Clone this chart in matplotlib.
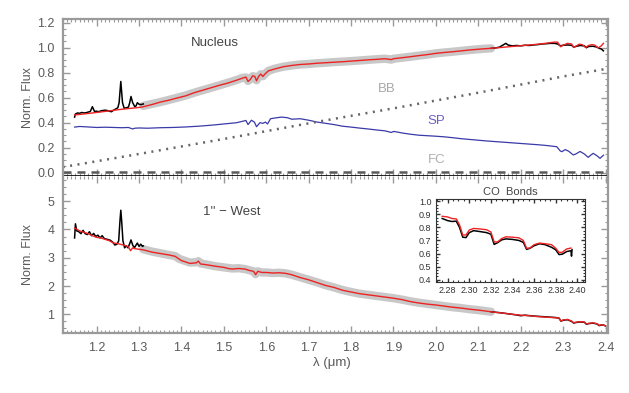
import matplotlib
matplotlib.use("Agg")
import matplotlib.pyplot as plt
from matplotlib.ticker import MultipleLocator

plt.rcParams['font.family'] = ['Liberation Sans', 'DejaVu Sans']

# ---------------- Nucleus ----------------
nuc_wave_j = [1.148, 1.150, 1.155, 1.160, 1.165, 1.170, 1.175, 1.180, 1.185, 1.190,
              1.195, 1.200, 1.205, 1.210, 1.215, 1.220, 1.225, 1.230, 1.235, 1.240,
              1.245, 1.250, 1.253, 1.257, 1.261, 1.265, 1.270, 1.275, 1.278, 1.281,
              1.285, 1.290, 1.293, 1.296, 1.300, 1.305, 1.310]
nuc_obs_j = [0.445, 0.470, 0.478, 0.475, 0.482, 0.478, 0.480, 0.485, 0.490, 0.528,
             0.490, 0.492, 0.488, 0.495, 0.498, 0.500, 0.498, 0.492, 0.488, 0.500,
             0.510, 0.520, 0.560, 0.730, 0.560, 0.515, 0.520, 0.525, 0.560, 0.610,
             0.560, 0.528, 0.535, 0.560, 0.548, 0.545, 0.550]

nuc_wave_mid = [1.31, 1.33, 1.35, 1.37, 1.39, 1.41, 1.43, 1.45, 1.47, 1.49,
                1.51, 1.53, 1.545, 1.552, 1.557, 1.562, 1.568, 1.573, 1.577, 1.582,
                1.587, 1.592, 1.597, 1.605, 1.62, 1.64, 1.66, 1.68, 1.70, 1.72,
                1.74, 1.76, 1.78, 1.80, 1.82, 1.84, 1.86, 1.88, 1.895, 1.90,
                1.92, 1.94, 1.96, 1.98, 2.00, 2.02, 2.04, 2.06, 2.08, 2.10,
                2.12, 2.13]
nuc_obs_mid = [0.535, 0.550, 0.565, 0.582, 0.600, 0.618, 0.640, 0.660, 0.680, 0.700,
               0.720, 0.742, 0.760, 0.762, 0.735, 0.748, 0.772, 0.768, 0.740, 0.770,
               0.788, 0.772, 0.790, 0.815, 0.832, 0.848, 0.858, 0.866, 0.870, 0.876,
               0.880, 0.885, 0.889, 0.893, 0.898, 0.903, 0.908, 0.912, 0.905, 0.912,
               0.920, 0.928, 0.937, 0.945, 0.955, 0.962, 0.968, 0.975, 0.982, 0.988,
               0.993, 0.995]

nuc_wave_k = [2.13, 2.14, 2.15, 2.16, 2.165, 2.17, 2.18, 2.19, 2.20, 2.21,
              2.22, 2.23, 2.24, 2.25, 2.26, 2.27, 2.28, 2.287, 2.294, 2.30,
              2.31, 2.32, 2.325, 2.33, 2.34, 2.35, 2.355, 2.36, 2.37, 2.38,
              2.385, 2.39, 2.395]
nuc_obs_k = [0.995, 0.998, 1.005, 1.025, 1.035, 1.022, 1.015, 1.018, 1.015, 1.020,
             1.018, 1.022, 1.025, 1.030, 1.032, 1.035, 1.035, 1.030, 1.015, 1.020,
             1.022, 1.020, 1.005, 1.010, 1.018, 1.015, 1.000, 1.010, 1.012, 1.005,
             0.995, 0.990, 0.975]

nuc_fit_wave = [1.148, 1.17, 1.20, 1.23, 1.26, 1.28, 1.30, 1.31, 1.33, 1.35,
                1.37, 1.39, 1.41, 1.43, 1.45, 1.47, 1.49, 1.51, 1.53, 1.545,
                1.552, 1.557, 1.562, 1.568, 1.573, 1.577, 1.582, 1.587, 1.592, 1.597,
                1.605, 1.62, 1.64, 1.66, 1.68, 1.70, 1.72, 1.74, 1.76, 1.78,
                1.80, 1.82, 1.84, 1.86, 1.88, 1.895, 1.90, 1.92, 1.94, 1.96,
                1.98, 2.00, 2.02, 2.04, 2.06, 2.08, 2.10, 2.12, 2.14, 2.16,
                2.18, 2.20, 2.22, 2.24, 2.26, 2.28, 2.287, 2.294, 2.300, 2.310,
                2.320, 2.325, 2.330, 2.338, 2.345, 2.353, 2.360, 2.368, 2.375, 2.383,
                2.390, 2.395]
nuc_fit = [0.462, 0.470, 0.482, 0.495, 0.508, 0.515, 0.522, 0.528, 0.545, 0.565,
           0.580, 0.598, 0.615, 0.640, 0.660, 0.680, 0.700, 0.718, 0.740, 0.758,
           0.765, 0.730, 0.745, 0.775, 0.770, 0.735, 0.770, 0.790, 0.770, 0.790,
           0.815, 0.830, 0.848, 0.858, 0.866, 0.870, 0.876, 0.880, 0.884, 0.888,
           0.893, 0.898, 0.903, 0.907, 0.912, 0.905, 0.912, 0.920, 0.928, 0.937,
           0.945, 0.955, 0.962, 0.968, 0.975, 0.982, 0.988, 0.993, 0.998, 1.004,
           1.010, 1.016, 1.022, 1.028, 1.036, 1.045, 1.045, 1.008, 1.020, 1.035,
           1.030, 1.002, 1.012, 1.028, 1.025, 1.002, 1.018, 1.025, 1.020, 0.998,
           1.015, 1.035]

sp_wave = [1.148, 1.16, 1.18, 1.20, 1.22, 1.24, 1.26, 1.275, 1.285, 1.29,
           1.30, 1.32, 1.35, 1.38, 1.41, 1.44, 1.47, 1.50, 1.53, 1.552,
           1.557, 1.565, 1.572, 1.577, 1.585, 1.592, 1.598, 1.603, 1.61, 1.625,
           1.636, 1.65, 1.66, 1.68, 1.70, 1.72, 1.74, 1.76, 1.78, 1.80,
           1.82, 1.84, 1.86, 1.88, 1.895, 1.90, 1.905, 1.92, 1.94, 1.96,
           1.98, 2.00, 2.02, 2.04, 2.06, 2.08, 2.10, 2.12, 2.14, 2.16,
           2.18, 2.20, 2.22, 2.24, 2.26, 2.285, 2.293, 2.297, 2.305, 2.313,
           2.324, 2.33, 2.34, 2.35, 2.359, 2.365, 2.371, 2.38, 2.387, 2.395]
sp_flux = [0.365, 0.370, 0.366, 0.362, 0.364, 0.362, 0.360, 0.362, 0.350, 0.356,
           0.358, 0.356, 0.360, 0.362, 0.366, 0.372, 0.380, 0.390, 0.400, 0.418,
           0.385, 0.420, 0.405, 0.368, 0.400, 0.395, 0.405, 0.390, 0.432, 0.440,
           0.445, 0.440, 0.428, 0.432, 0.420, 0.405, 0.395, 0.385, 0.372, 0.365,
           0.357, 0.350, 0.342, 0.335, 0.322, 0.330, 0.328, 0.318, 0.308, 0.300,
           0.296, 0.292, 0.287, 0.280, 0.272, 0.266, 0.260, 0.254, 0.249, 0.244,
           0.239, 0.234, 0.229, 0.224, 0.218, 0.208, 0.175, 0.168, 0.185, 0.172,
           0.142, 0.150, 0.170, 0.150, 0.123, 0.140, 0.155, 0.135, 0.115, 0.140]

bb_wave = [1.12, 1.30, 1.50, 1.70, 1.90, 2.10, 2.30, 2.40]
bb_flux = [0.045, 0.150, 0.270, 0.395, 0.515, 0.640, 0.770, 0.830]

fc_wave = [1.12, 2.40]
fc_flux = [0.008, 0.008]

# ---------------- 1'' West ----------------
west_wave_j = [1.148, 1.150, 1.153, 1.158, 1.163, 1.168, 1.173, 1.178, 1.183, 1.188,
               1.193, 1.198, 1.203, 1.208, 1.213, 1.218, 1.225, 1.232, 1.238, 1.243,
               1.248, 1.252, 1.255, 1.257, 1.259, 1.262, 1.266, 1.270, 1.274, 1.278,
               1.281, 1.285, 1.289, 1.293, 1.296, 1.300, 1.304, 1.308, 1.310]
west_obs_j = [3.70, 4.20, 3.95, 3.92, 3.85, 3.97, 3.85, 3.82, 3.92, 3.78,
              3.86, 3.75, 3.80, 3.70, 3.78, 3.68, 3.65, 3.62, 3.55, 3.45,
              3.48, 3.60, 4.30, 4.68, 4.30, 3.60, 3.35, 3.42, 3.35, 3.50,
              3.63, 3.45, 3.35, 3.45, 3.52, 3.40, 3.48, 3.40, 3.42]

west_wave_mid = [1.31, 1.33, 1.35, 1.37, 1.385, 1.395, 1.41, 1.42, 1.435, 1.44,
                 1.445, 1.46, 1.48, 1.50, 1.52, 1.535, 1.55, 1.56, 1.57, 1.575,
                 1.58, 1.59, 1.60, 1.615, 1.63, 1.645, 1.66, 1.68, 1.70, 1.72,
                 1.74, 1.76, 1.78, 1.80, 1.82, 1.84, 1.86, 1.88, 1.90, 1.92,
                 1.94, 1.96, 1.98, 2.00, 2.02, 2.04, 2.06, 2.08, 2.10, 2.12,
                 2.13]
west_obs_mid = [3.30, 3.22, 3.16, 3.10, 3.06, 2.96, 2.88, 2.83, 2.84, 2.88,
                2.80, 2.76, 2.70, 2.66, 2.62, 2.63, 2.60, 2.56, 2.52, 2.42,
                2.52, 2.48, 2.48, 2.46, 2.47, 2.45, 2.40, 2.31, 2.22, 2.13,
                2.03, 1.95, 1.86, 1.79, 1.73, 1.69, 1.65, 1.61, 1.57, 1.52,
                1.46, 1.41, 1.37, 1.33, 1.29, 1.25, 1.22, 1.18, 1.15, 1.11,
                1.09]

west_wave_k = [2.13, 2.15, 2.17, 2.19, 2.20, 2.21, 2.23, 2.25, 2.27, 2.28,
               2.29, 2.295, 2.30, 2.31, 2.32, 2.325, 2.33, 2.34, 2.35, 2.355,
               2.36, 2.37, 2.38, 2.385, 2.39, 2.395, 2.40]
west_obs_k = [1.09, 1.06, 1.02, 0.98, 0.95, 0.97, 0.94, 0.92, 0.90, 0.89,
              0.87, 0.76, 0.79, 0.81, 0.75, 0.69, 0.71, 0.73, 0.72, 0.65,
              0.67, 0.69, 0.66, 0.60, 0.62, 0.62, 0.59]

west_fit_wave = [1.148, 1.16, 1.17, 1.18, 1.19, 1.20, 1.21, 1.22, 1.23, 1.24,
                 1.25, 1.26, 1.27, 1.275, 1.28, 1.285, 1.29, 1.30, 1.31, 1.33,
                 1.35, 1.37, 1.385, 1.395, 1.40, 1.41, 1.42, 1.435, 1.44, 1.445,
                 1.46, 1.48, 1.50, 1.51, 1.52, 1.535, 1.55, 1.56, 1.57, 1.575,
                 1.58, 1.59, 1.60, 1.615, 1.63, 1.645, 1.66, 1.68, 1.70, 1.72,
                 1.74, 1.76, 1.78, 1.80, 1.82, 1.84, 1.86, 1.88, 1.90, 1.92,
                 1.94, 1.96, 1.98, 2.00, 2.02, 2.04, 2.06, 2.08, 2.10, 2.12,
                 2.14, 2.16, 2.18, 2.20, 2.22, 2.24, 2.26, 2.28, 2.29, 2.295,
                 2.30, 2.31, 2.32, 2.325, 2.33, 2.34, 2.35, 2.355, 2.36, 2.37,
                 2.38, 2.385, 2.39, 2.40]
west_fit = [4.05, 3.95, 3.90, 3.85, 3.78, 3.72, 3.70, 3.65, 3.60, 3.52,
            3.50, 3.46, 3.42, 3.38, 3.25, 3.35, 3.32, 3.30, 3.28, 3.20,
            3.15, 3.10, 3.05, 2.95, 2.90, 2.85, 2.80, 2.82, 2.88, 2.78,
            2.75, 2.70, 2.66, 2.62, 2.60, 2.62, 2.60, 2.55, 2.52, 2.40,
            2.52, 2.48, 2.48, 2.46, 2.47, 2.45, 2.40, 2.30, 2.22, 2.12,
            2.02, 1.95, 1.85, 1.79, 1.73, 1.69, 1.65, 1.61, 1.57, 1.52,
            1.45, 1.40, 1.36, 1.33, 1.29, 1.25, 1.22, 1.18, 1.15, 1.11,
            1.07, 1.04, 1.00, 0.97, 0.95, 0.92, 0.90, 0.88, 0.87, 0.76,
            0.80, 0.82, 0.76, 0.70, 0.72, 0.74, 0.73, 0.66, 0.68, 0.70,
            0.67, 0.61, 0.63, 0.60]

# ---------------- CO bands inset ----------------
co_wave = [2.275, 2.280, 2.284, 2.288, 2.291, 2.294, 2.297, 2.300, 2.304, 2.310,
           2.316, 2.320, 2.323, 2.326, 2.330, 2.334, 2.340, 2.346, 2.350, 2.353,
           2.356, 2.360, 2.365, 2.370, 2.376, 2.380, 2.383, 2.386, 2.390, 2.394]
co_fit = [0.885, 0.880, 0.868, 0.865, 0.820, 0.742, 0.742, 0.780, 0.792, 0.788,
          0.782, 0.765, 0.690, 0.688, 0.715, 0.728, 0.725, 0.720, 0.700, 0.640,
          0.642, 0.668, 0.680, 0.675, 0.668, 0.640, 0.608, 0.610, 0.635, 0.642]
co_obs_wave = [2.275, 2.280, 2.284, 2.288, 2.291, 2.294, 2.297, 2.300, 2.304, 2.310,
               2.316, 2.320, 2.323, 2.326, 2.330, 2.334, 2.340, 2.346, 2.350, 2.353,
               2.356, 2.360, 2.365, 2.370, 2.376, 2.380, 2.383, 2.386, 2.390, 2.394,
               2.3945, 2.395]
co_obs = [0.868, 0.852, 0.845, 0.848, 0.800, 0.725, 0.722, 0.760, 0.775, 0.768,
          0.760, 0.748, 0.670, 0.682, 0.705, 0.712, 0.708, 0.700, 0.685, 0.632,
          0.640, 0.660, 0.675, 0.668, 0.648, 0.628, 0.592, 0.595, 0.615, 0.622,
          0.580, 0.630]

labels_top = ["Nucleus", "BB", "SP", "FC"]
label_bottom = "1'' \u2212 West"

# ---------------- styling ----------------
SPINE = "#9a9a9a"
TXT = "#5a5a5a"
GREY_BAND = "#c8c8c8"
RED = "#ee2222"
BLUE = "#3a3aa8"

fig = plt.figure(figsize=(6.29, 3.93), dpi=100)
ax1 = fig.add_axes([0.0997, 0.5529, 0.8677, 0.3988])
ax2 = fig.add_axes([0.0997, 0.1534, 0.8677, 0.3995])
axi = fig.add_axes([0.6927, 0.2817, 0.2374, 0.2112])

XLIM = (1.12, 2.407)


def style(ax, ymaj, ymin, spine_col=SPINE, lw=1.6, fs=9, labelcol=TXT):
    for s in ax.spines.values():
        s.set_color(spine_col)
        s.set_linewidth(lw)
    ax.tick_params(which="both", direction="in", top=True, right=True,
                   colors=spine_col, labelcolor=labelcol, labelsize=fs)
    ax.tick_params(which="major", length=5, width=1.0, pad=6)
    ax.tick_params(which="minor", length=2.5, width=0.8)
    ax.yaxis.set_major_locator(MultipleLocator(ymaj))
    ax.yaxis.set_minor_locator(MultipleLocator(ymin))


# Top panel
ax1.plot(nuc_wave_mid, nuc_obs_mid, color=GREY_BAND, lw=6, solid_capstyle="round", zorder=1)
ax1.plot(nuc_wave_j, nuc_obs_j, color="black", lw=1.1, zorder=2)
ax1.plot(nuc_wave_k, nuc_obs_k, color="black", lw=1.1, zorder=2)
ax1.plot(nuc_fit_wave, nuc_fit, color=RED, lw=1.0, zorder=3)
ax1.plot(sp_wave, sp_flux, color=BLUE, lw=0.9, zorder=2)
ax1.plot(bb_wave, bb_flux, color="#666666", lw=1.8, linestyle=(0, (0.8, 2.2)),
         dash_capstyle="butt", zorder=2)
ax1.plot(fc_wave, fc_flux, color="#5a5a5a", lw=1.8, linestyle=(0, (3.2, 2.4)),
         dash_capstyle="butt", zorder=2)

ax1.set_xlim(*XLIM)
ax1.set_ylim(-0.024, 1.23)
style(ax1, 0.2, 0.05)
ax1.xaxis.set_major_locator(MultipleLocator(0.1))
ax1.xaxis.set_minor_locator(MultipleLocator(0.01))
ax1.tick_params(axis="x", labelbottom=False)
ax1.spines["bottom"].set_color("black")
ax1.spines["bottom"].set_linewidth(1.2)
ax1.set_yticks([0.0, 0.2, 0.4, 0.6, 0.8, 1.0, 1.2])
ax1.set_yticklabels(["0.0", "0.2", "0.4", "0.6", "0.8", "1.0", "1.2"])
ax1.set_ylabel("Norm. Flux", color=TXT, fontsize=9)
ax1.yaxis.set_label_coords(-0.053, 0.5)

ax1.text(1.479, 1.04, labels_top[0], color="#444444", fontsize=9.5, ha="center", va="center")
ax1.text(1.884, 0.667, labels_top[1], color="#a8a8a8", fontsize=9.5, ha="center", va="center")
ax1.text(2.002, 0.416, labels_top[2], color="#6a5fc0", fontsize=9.5, ha="center", va="center")
ax1.text(2.002, 0.100, labels_top[3], color="#b0b0b0", fontsize=9.5, ha="center", va="center")

# Bottom panel
ax2.plot(west_wave_mid, west_obs_mid, color=GREY_BAND, lw=6, solid_capstyle="round", zorder=1)
ax2.plot(west_wave_j, west_obs_j, color="black", lw=1.1, zorder=2)
ax2.plot(west_wave_k, west_obs_k, color="black", lw=1.1, zorder=2)
ax2.plot(west_fit_wave, west_fit, color=RED, lw=1.0, zorder=3)

ax2.set_xlim(*XLIM)
ax2.set_ylim(0.35, 5.9)
style(ax2, 1, 0.25)
ax2.spines["top"].set_visible(False)
ax2.xaxis.set_major_locator(MultipleLocator(0.1))
ax2.xaxis.set_minor_locator(MultipleLocator(0.01))
ax2.tick_params(axis="x", pad=7)
ax2.set_ylabel("Norm. Flux", color=TXT, fontsize=9)
ax2.yaxis.set_label_coords(-0.053, 0.495)
ax2.set_xlabel("\u03bb (\u03bcm)", color=TXT, fontsize=9.5)
ax2.xaxis.set_label_coords(0.493, -0.155)
ax2.text(1.518, 4.63, label_bottom, color="#444444", fontsize=9.5, ha="center", va="center")

# Inset
axi.plot(co_wave, co_fit, color=RED, lw=1.0, zorder=3)
axi.plot(co_obs_wave, co_obs, color="black", lw=1.1, zorder=2)
axi.set_xlim(2.269, 2.407)
axi.set_ylim(0.38, 1.015)
style(axi, 0.1, 0.025, spine_col="#333333", lw=0.8, fs=6.5, labelcol="#333333")
axi.tick_params(which="major", length=3, pad=3)
axi.tick_params(which="minor", length=1.5)
axi.xaxis.set_major_locator(MultipleLocator(0.02))
axi.xaxis.set_minor_locator(MultipleLocator(0.005))
axi.set_xticks([2.28, 2.30, 2.32, 2.34, 2.36, 2.38, 2.40])
axi.set_xticklabels(["2.28", "2.30", "2.32", "2.34", "2.36", "2.38", "2.40"])
axi.set_yticks([0.4, 0.5, 0.6, 0.7, 0.8, 0.9, 1.0])
axi.set_yticklabels(["0.4", "0.5", "0.6", "0.7", "0.8", "0.9", "1.0"])
axi.set_title("CO  Bonds", fontsize=8, color="#444444", pad=3)

fig.savefig("out.png", dpi=100)
